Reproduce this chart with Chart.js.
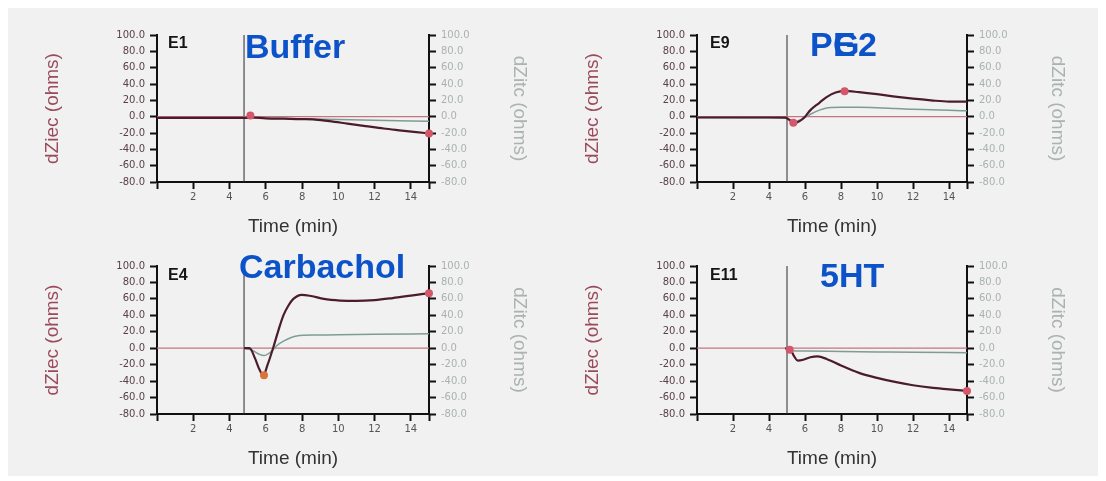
<!DOCTYPE html>
<html>
<head>
<meta charset="utf-8">
<script src="https://cdn.jsdelivr.net/npm/chart.js@4.4.1/dist/chart.umd.min.js"></script>
<style>
  html, body { margin: 0; padding: 0; background: #fff; }
  body { width: 1106px; height: 481px; position: relative; overflow: hidden; }
  #frame { position: absolute; left: 8px; top: 8px; width: 1090px; height: 468px; background: #f1f1f1; }
  canvas { position: absolute; }
</style>
</head>
<body>
<div id="frame"></div>
<canvas id="e1"></canvas>
<canvas id="e9"></canvas>
<canvas id="e4"></canvas>
<canvas id="e11"></canvas>
<script>
// axis ticks
const timeTicks = [0, 2, 4, 6, 8, 10, 12, 14, 15];
const timeTickLabels = ['', '2', '4', '6', '8', '10', '12', '14', ''];
const ohmTicks = [-80, -60, -40, -20, 0, 20, 40, 60, 80, 100];

const wells = ['E1', 'E9', 'E4', 'E11'];
const treatments = ['Buffer', 'PGE2', 'Carbachol', '5HT'];
const injectionTimes = [4.8, 5.0, 4.8, 5.0];

// zero reference line
const baselineTime = [0, 15];
const baselineOhm = [0, 0];

// E1 - Buffer
const e1Time = [0, 2, 4, 5, 5.2, 6, 7, 8, 8.6, 9.5, 10.5, 11.5, 12.5, 13.5, 14.3, 15];
const e1Ziec = [-1.5, -1.5, -1.5, -1.5, -1, -2, -2.5, -3, -3.2, -5.5, -8.5, -11.5, -14.5, -17, -19, -20.5];
const e1ZitcTime = [0, 5, 6, 8, 10, 12, 15];
const e1Zitc = [-1.5, -1.5, -2, -2.5, -3.5, -4.5, -5.5];
const e1MarkTime = [5.15, 15];
const e1Mark = [1.5, -20.5];

// E9 - PGE2
const e9Time = [0, 2, 4, 4.9, 5.2, 5.4, 5.7, 6.0, 6.3, 6.8, 7.2, 7.7, 8.2, 9, 10, 11, 12, 13, 14, 15];
const e9Ziec = [-1, -1, -1, -1.2, -5, -8, -5.5, 0, 8, 17, 24, 29.5, 31.5, 30, 27.5, 24.5, 22, 20, 18.5, 18.5];
const e9ZitcTime = [0, 4.9, 5.4, 5.8, 6.3, 6.8, 7.3, 8, 9, 10, 11, 12, 13, 14, 15];
const e9Zitc = [-1, -1.2, -6, -3.5, 3, 8, 11, 11.5, 11.5, 11, 10, 9, 8.5, 7.8, 7.2];
const e9MarkTime = [5.35, 8.2];
const e9Mark = [-7.5, 31];

// E4 - Carbachol
const e4Time = [4.8, 5.1, 5.4, 5.65, 5.86, 6.1, 6.4, 6.7, 6.97, 7.25, 7.52, 7.98, 8.5, 9.2, 10.1, 11, 12, 13, 14, 15];
const e4Ziec = [0, 0, -12, -26, -33, -20, 0, 22, 40, 52, 60, 65, 63.5, 60, 58, 57.5, 58.5, 61, 64, 67];
const e4ZitcTime = [4.8, 5.2, 5.6, 5.9, 6.3, 6.6, 7.0, 7.7, 8.8, 10, 12, 15];
const e4Zitc = [0, -2, -7, -9, -4, 3, 9, 15, 16, 16.5, 17, 17.5];
const e4MarkTime = [5.9, 15];
const e4Mark = [-33, 67];

// E11 - 5HT
const e11Time = [4.9, 5.2, 5.4, 5.6, 5.9, 6.3, 6.7, 7.2, 8, 9, 10, 11, 12, 13, 14, 15];
const e11Ziec = [0, -2, -10, -15, -14, -11, -10, -13, -21, -30, -36, -41, -45, -48, -50, -52];
const e11ZitcTime = [4.9, 5.3, 6, 8, 10, 12, 15];
const e11Zitc = [0, -3, -3.5, -4, -4.5, -5, -5.5];
const e11MarkTime = [5.15, 15];
const e11Mark = [-2, -52];

const pts = (xs, ys) => xs.map((x, i) => ({ x, y: ys[i] }));

const panels = [
  { id: 'e1', area: [157, 35, 429, 182], wellAt: [11, 13], nameAt: [88, 23],
    ziec: pts(e1Time, e1Ziec), zitc: pts(e1ZitcTime, e1Zitc), marks: pts(e1MarkTime, e1Mark) },
  { id: 'e9', area: [697, 35, 967, 182], wellAt: [13, 13], nameAt: [113, 21], letterX: [113, 136, 136, 161],
    ziec: pts(e9Time, e9Ziec), zitc: pts(e9ZitcTime, e9Zitc), marks: pts(e9MarkTime, e9Mark) },
  { id: 'e4', area: [157, 266, 429, 414], wellAt: [11, 14], nameAt: [82, 12],
    ziec: pts(e4Time, e4Ziec), zitc: pts(e4ZitcTime, e4Zitc), marks: pts(e4MarkTime, e4Mark), dipColor: '#d9743a' },
  { id: 'e11', area: [697, 266, 967, 414], wellAt: [13, 14], nameAt: [123, 21],
    ziec: pts(e11Time, e11Ziec), zitc: pts(e11ZitcTime, e11Zitc), marks: pts(e11MarkTime, e11Mark) },
];

const tickFont = { family: '"DejaVu Sans", sans-serif', size: 10 };
const titleFont = { family: '"Liberation Sans", Arial, sans-serif', size: 19 };
const axisGrid = { drawOnChartArea: false, tickLength: 7, tickWidth: 2, tickColor: '#111' };
const axisBorder = { color: '#111', width: 2 };

const makeChart = (panel, i) => {
  const [L, T, R, B] = panel.area;
  const canvas = document.getElementById(panel.id);
  const w = R - L + 243;
  const h = B - T + 84;
  canvas.width = w;
  canvas.height = h;
  canvas.style.width = w + 'px';
  canvas.style.height = h + 'px';
  canvas.style.left = (L - 132) + 'px';
  canvas.style.top = (T - 20) + 'px';

  const inj = injectionTimes[i];
  const markColors = panel.marks.map((m, k) => (k === 0 && panel.dipColor ? panel.dipColor : '#d4566a'));

  const panelText = {
    id: 'panelText',
    afterDraw: (chart) => {
      const { ctx, chartArea: { left, top } } = chart;
      ctx.save();
      ctx.textBaseline = 'alphabetic';
      ctx.fillStyle = '#151515';
      ctx.font = 'bold 16px "Liberation Sans", Arial, sans-serif';
      ctx.fillText(wells[i], left + panel.wellAt[0], top + panel.wellAt[1]);
      ctx.fillStyle = '#0c52c8';
      ctx.font = 'bold 34px "Liberation Sans", Arial, sans-serif';
      const name = treatments[i];
      if (panel.letterX) {
        // letters in this label overlap in the original
        name.split('').forEach((c, k) => ctx.fillText(c, left + panel.letterX[k], top + panel.nameAt[1]));
      } else {
        ctx.fillText(name, left + panel.nameAt[0], top + panel.nameAt[1]);
      }
      ctx.restore();
    },
  };

  // eslint-disable-next-line no-new
  new Chart(canvas, {
    type: 'line',
    data: {
      datasets: [
        { data: panel.marks, yAxisID: 'y', showLine: false, pointRadius: 4, pointBorderWidth: 0,
          pointBackgroundColor: markColors, clip: false },
        { data: panel.ziec, yAxisID: 'y', borderColor: '#4b1d2c', borderWidth: 2.2, pointRadius: 0,
          cubicInterpolationMode: 'monotone' },
        { data: panel.zitc, yAxisID: 'y1', borderColor: '#7f9c94', borderWidth: 1.5, pointRadius: 0,
          cubicInterpolationMode: 'monotone' },
        { data: pts(baselineTime, baselineOhm), yAxisID: 'y', borderColor: '#c57582', borderWidth: 1.2, pointRadius: 0 },
        { data: pts([inj, inj], [ohmTicks[0], ohmTicks[ohmTicks.length - 1]]), yAxisID: 'y',
          borderColor: '#2a2a2a', borderWidth: 1, pointRadius: 0 },
      ],
    },
    options: {
      responsive: false,
      animation: false,
      events: [],
      layout: { padding: { top: 20, left: 0, right: 0, bottom: 0 } },
      plugins: { legend: { display: false }, tooltip: { enabled: false } },
      scales: {
        x: {
          type: 'linear', min: 0, max: 15,
          afterBuildTicks: (s) => { s.ticks = timeTicks.map((value) => ({ value })); },
          afterFit: (s) => { s.height = 64; },
          ticks: { autoSkip: false, maxRotation: 0, padding: 2, color: '#555', font: tickFont,
            callback: (v, k) => timeTickLabels[k] },
          grid: axisGrid,
          border: axisBorder,
          title: { display: true, text: 'Time (min)', color: '#333', font: titleFont, padding: { top: 0, bottom: 8 } },
        },
        y: {
          position: 'left', min: ohmTicks[0], max: ohmTicks[ohmTicks.length - 1],
          afterBuildTicks: (s) => { s.ticks = ohmTicks.map((value) => ({ value })); },
          afterFit: (s) => { s.width = 132; },
          ticks: { padding: 5, color: '#5a4048', font: tickFont, callback: (v) => v.toFixed(1) },
          grid: axisGrid,
          border: axisBorder,
          title: { display: true, text: 'dZiec (ohms)', color: '#9a4a5c', font: titleFont, padding: { top: 16, bottom: 0 } },
        },
        y1: {
          position: 'right', min: ohmTicks[0], max: ohmTicks[ohmTicks.length - 1],
          afterBuildTicks: (s) => { s.ticks = ohmTicks.map((value) => ({ value })); },
          afterFit: (s) => { s.width = 111; },
          ticks: { padding: 5, color: '#a9b3ae', font: tickFont, callback: (v) => v.toFixed(1) },
          grid: axisGrid,
          border: axisBorder,
          title: { display: true, text: 'dZitc (ohms)', color: '#aab3ae', font: titleFont, padding: { top: 9, bottom: 0 } },
        },
      },
    },
    plugins: [panelText],
  });
};

panels.forEach(makeChart);
</script>
</body>
</html>
